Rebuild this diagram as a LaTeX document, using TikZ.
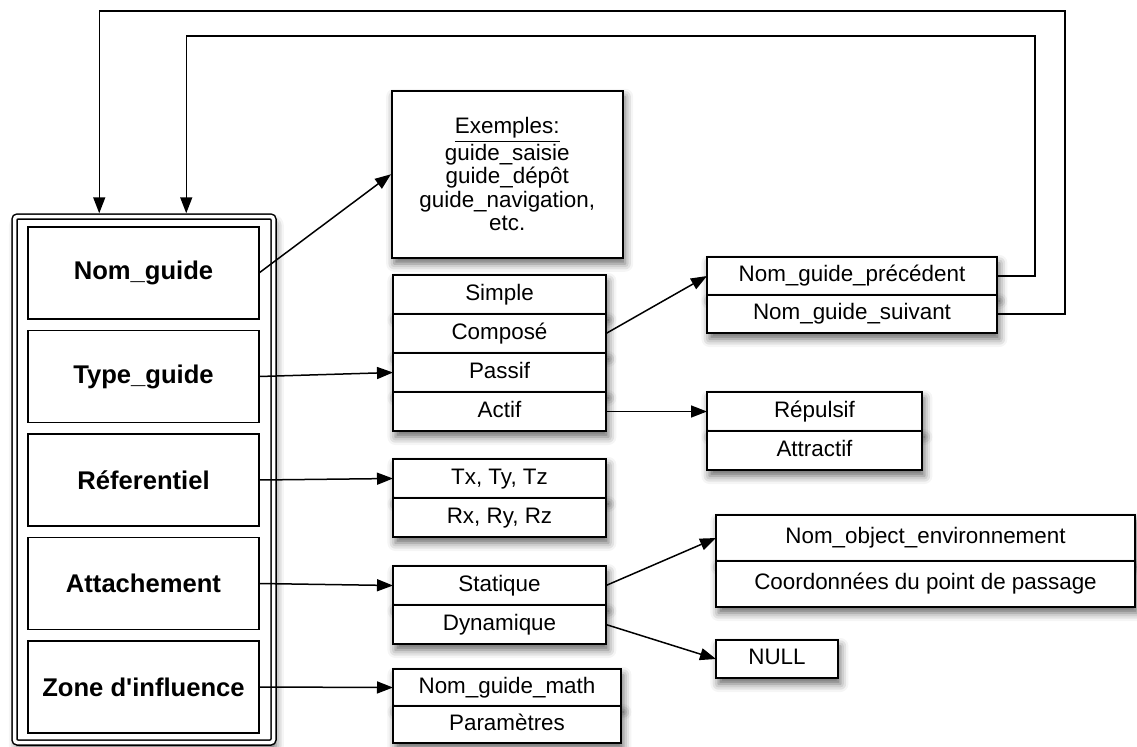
\documentclass[tikz,border=0pt]{standalone}
\usepackage{fontspec}
\setmainfont{Liberation Sans}
\usetikzlibrary{arrows.meta,positioning,shadows.blur}

\begin{document}
\begin{tikzpicture}[
    x=0.5pt,y=-0.5pt,
    line width=0.75pt,
    boxshadow/.style={fill=white,blur shadow={shadow xshift=1.2pt,shadow yshift=-3pt,shadow blur radius=4pt,shadow opacity=60}},
    field/.style={rectangle,draw,minimum width=115.5pt,minimum height=46pt,inner sep=0pt,outer sep=0pt,font=\fontsize{12.8}{14}\selectfont\bfseries},
    row/.style={rectangle,draw,boxshadow,minimum width=106.5pt,minimum height=19.5pt,inner sep=0pt,outer sep=0pt,text height=8pt,text depth=2.4pt,font=\fontsize{11.2}{12}\selectfont},
    arrow/.style={-{Triangle[length=8pt,width=6pt]}}
]
    \useasboundingbox (0,0) rectangle (1137,746);

    % cadre du guide
    \node[draw,double,double distance=1.75pt,rounded corners=1.5pt,boxshadow,minimum width=129.5pt,minimum height=263pt,inner sep=0pt,outer sep=1.625pt] (frame) at (144,479.5) {};

    % champs du guide
    \node[field,anchor=north west] (nom) at (28,227) {Nom\_guide};
    \node[field,below=5.75pt of nom] (type) {Type\_guide};
    \node[field,below=5.75pt of type] (ref) {Réferentiel};
    \node[field,below=5.75pt of ref] (attach) {Attachement};
    \node[field,below=5.75pt of attach] (zone) {Zone d\textquotesingle influence};

    % valeurs
    \node[draw,boxshadow,anchor=north west,minimum width=115.5pt,minimum height=83.5pt,inner sep=0pt,align=center,font=\fontsize{11.2}{11.75}\selectfont] (ex) at (391,90) {\underline{Exemples:}\\guide\_saisie\\guide\_dépôt\\guide\_navigation,\\etc.};

    \node[row,anchor=north west] (simple) at (393,275) {Simple};
    \node[row,below=0pt of simple] (compose) {Composé};
    \node[row,below=0pt of compose] (passif) {Passif};
    \node[row,below=0pt of passif] (actif) {Actif};

    \node[row,minimum width=145pt,minimum height=19pt,anchor=north west] (prec) at (707,257) {Nom\_guide\_précédent};
    \node[row,minimum width=145pt,minimum height=19pt,below=0pt of prec] (suiv) {Nom\_guide\_suivant};

    \node[row,minimum width=107.5pt,anchor=north west] (repulsif) at (707,392) {Répulsif};
    \node[row,minimum width=107.5pt,below=0pt of repulsif] (attractif) {Attractif};

    \node[row,anchor=north west] (tx) at (393,459) {Tx, Ty, Tz};
    \node[row,below=0pt of tx] (rx) {Rx, Ry, Rz};

    \node[row,minimum width=209.5pt,minimum height=23pt,anchor=north west] (objet) at (716,515) {Nom\_object\_environnement};
    \node[row,minimum width=209.5pt,minimum height=23pt,below=0pt of objet] (coord) {Coordonnées du point de passage};

    \node[row,anchor=north west] (statique) at (393,566) {Statique};
    \node[row,below=0pt of statique] (dynamique) {Dynamique};

    \node[row,minimum width=61pt,minimum height=19pt,anchor=north west] (nullbox) at (716,640) {NULL};

    \node[row,minimum width=114pt,minimum height=18.5pt,anchor=north west] (math) at (393,669) {Nom\_guide\_math};
    \node[row,minimum width=114pt,minimum height=18.5pt,below=0pt of math] (param) {Paramètres};

    % liens
    \draw[arrow] (nom.east) -- (ex.west);
    \draw[arrow] (type.east) -- (passif.west);
    \draw[arrow] (ref.east) -- (tx.west);
    \draw[arrow] (attach.east) -- (statique.west);
    \draw[arrow] (zone.east) -- (math.west);
    \draw[arrow] (compose.east) -- (prec.west);
    \draw[arrow] (actif.east) -- (repulsif.west);
    \draw[arrow] (statique.east) -- (objet.west);
    \draw[arrow] (dynamique.east) -- (nullbox.west);
    \draw[arrow] (prec.east) -| (1035,36) -| ([xshift=87.5pt]frame.north west);
    \draw[arrow] (suiv.east) -| (1065,11) -| ([xshift=44pt]frame.north west);
\end{tikzpicture}
\end{document}
